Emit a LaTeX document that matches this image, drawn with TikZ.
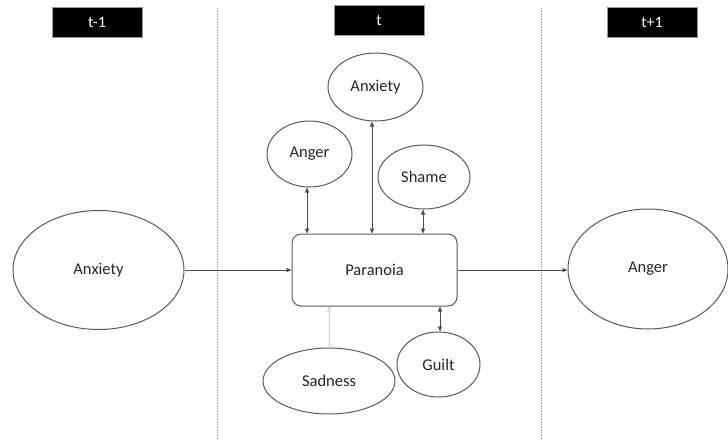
\documentclass[tikz,border=0pt]{standalone}
\usepackage{fontspec}
\setmainfont{Carlito}
\usetikzlibrary{arrows.meta,shapes.geometric}
\begin{document}
\begin{tikzpicture}[x=1pt,y=-1pt,
  lbl/.style={font=\fontsize{16.5}{19}\selectfont, text=black!85},
  oval/.style={ellipse, draw=black!65, line width=1pt, lbl, inner sep=0pt},
  hdr/.style={fill=black, draw=black!40, text=white, font=\fontsize{16}{18}\selectfont, minimum width=90, minimum height=30, inner sep=0pt},
  con/.style={draw=black!70, line width=0.6pt},
  tip/.style={-{Triangle[length=5pt,width=4pt]}},
  dtip/.style={{Triangle[length=5pt,width=4pt]}-{Triangle[length=5pt,width=4pt]}},
  sep/.style={draw=black!35, line width=0.6pt, densely dotted}
]
\useasboundingbox (0,0) rectangle (728,439);
% headers
\node[hdr] (h1) at (97,22) {t-1};
\node[hdr] (h2) at (379,20.5) {t};
\node[hdr] (h3) at (652,22) {t+1};
% separators
\coordinate (s1a) at (217.5,8); \coordinate (s1b) at (217.5,439);
\coordinate (s2a) at (541.5,8); \coordinate (s2b) at (541.5,439);
\draw[sep] (s1a) -- (s1b);
\draw[sep] (s2a) -- (s2b);
% nodes
\node[oval, minimum width=171, minimum height=119] (anx0) at (98.5,270) {Anxiety};
\node[oval, minimum width=160, minimum height=120] (ang2) at (648,269) {Anger};
\node[draw=black!65, line width=1pt, rounded corners=9pt, minimum width=165, minimum height=72, lbl] (par) at (374.5,270) {Paranoia};
\node[oval, minimum width=95, minimum height=68] (anx1) at (375.5,87) {Anxiety};
\node[oval, minimum width=85, minimum height=66] (ang1) at (309.5,154) {Anger};
\node[oval, minimum width=92, minimum height=64] (sha) at (424,177) {Shame};
\node[oval, minimum width=132, minimum height=66] (sad) at (329,381) {Sadness};
\node[oval, minimum width=83, minimum height=65] (gui) at (438.5,364.5) {Guilt};
% connectors
\draw[con,tip] (anx0.east) -- (anx0.east -| par.west);
\draw[con,tip] (par.east) -- (par.east -| ang2.west);
\draw[con,dtip] (ang1.south -| 307,0) -- (par.north -| 307,0);
\draw[con,dtip] (anx1.south -| 372,0) -- (par.north -| 372,0);
\draw[con,dtip] (sha.south -| 423,0) -- (par.north -| 423,0);
\draw[con,dtip] (par.south -| 440,0) -- (gui.north -| 440,0);
\draw[draw=black!25, line width=0.6pt, densely dotted, -{Triangle[length=5pt,width=4pt,open]}] (sad.north) -- (par.south -| sad.north);
\end{tikzpicture}
\end{document}
